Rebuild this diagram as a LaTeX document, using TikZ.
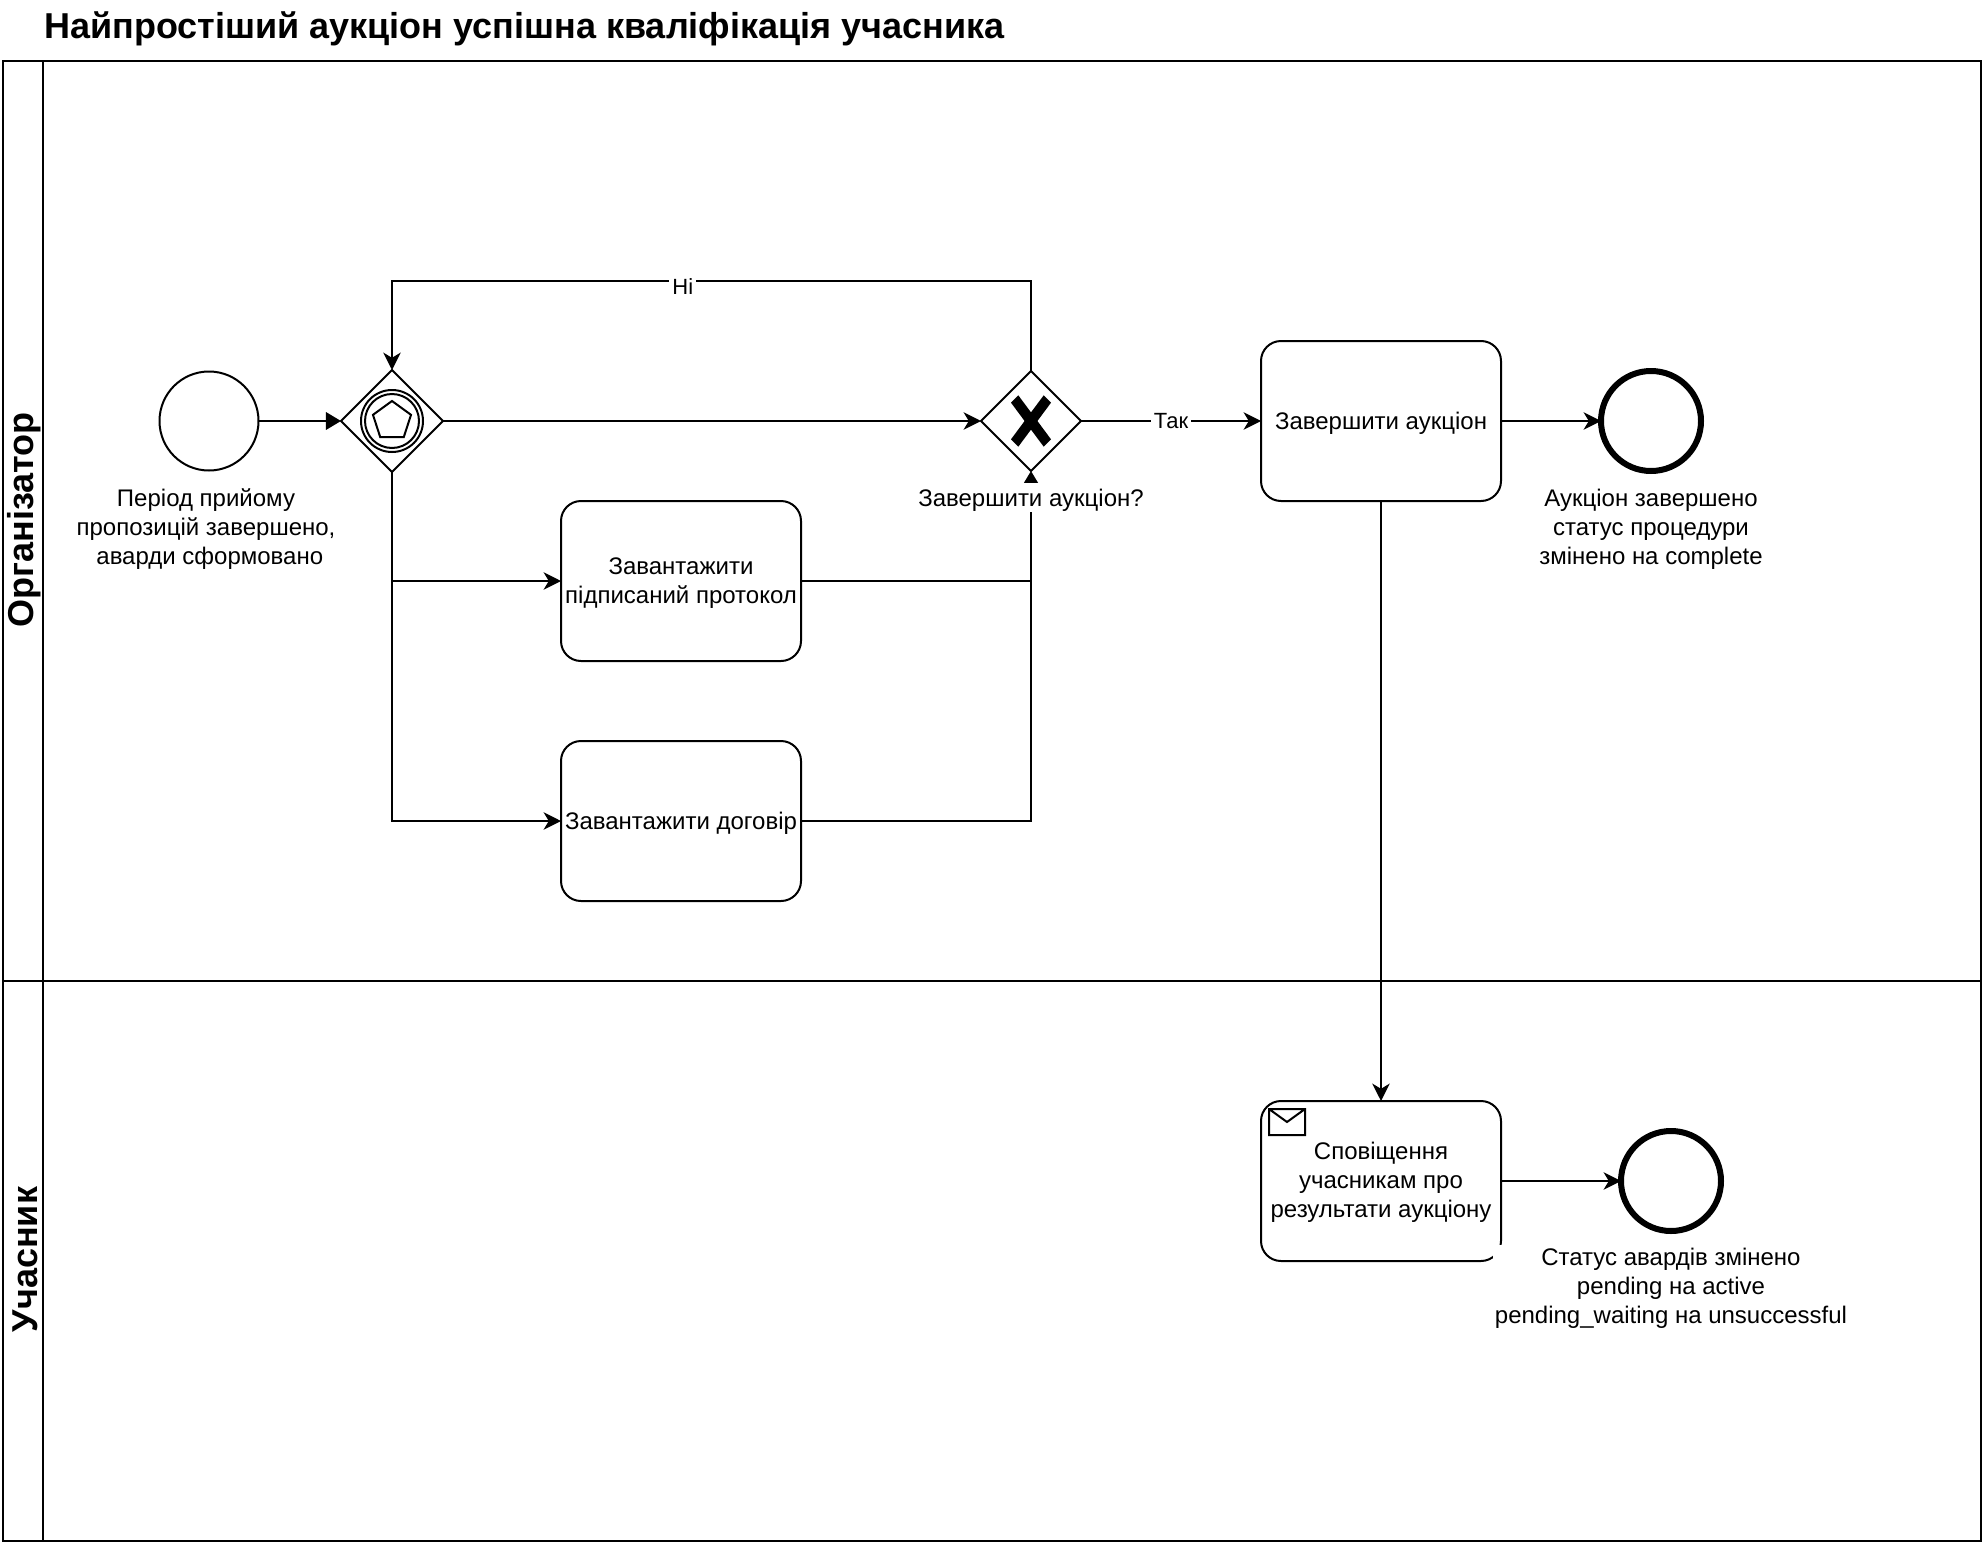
\documentclass[tikz,border=0pt]{standalone}
\usepackage{fontspec}
\setmainfont{Liberation Sans}
\usetikzlibrary{arrows.meta,shapes.geometric}
\tikzset{
 lane/.style={draw,line width=1pt,inner sep=0pt,outer sep=0pt},
 lanehead/.style={lane,rotate=90,font=\bfseries\fontsize{18}{22}\selectfont,execute at begin node={\rule{0pt}{14.5pt}}},
 task/.style={draw,line width=1pt,rounded corners=10pt,minimum width=120pt,minimum height=80pt,inner sep=0pt,outer sep=0pt,align=center,font=\fontsize{12}{14.5}\selectfont,execute at begin node={\rule{0pt}{11pt}}},
 gate/.style={draw,line width=1pt,diamond,aspect=1,minimum width=51pt,minimum height=51pt,inner sep=0pt,outer sep=0pt},
 startevent/.style={draw,line width=1pt,circle,minimum size=50pt,inner sep=0pt,outer sep=0pt},
 endevent/.style={draw,line width=3pt,circle,minimum size=50pt,inner sep=0pt,outer sep=0pt},
 caption/.style={fill=white,inner ysep=0pt,inner xsep=1pt,align=center,font=\fontsize{12}{14.5}\selectfont},
 edgetext/.style={fill=white,inner ysep=0pt,inner xsep=1.5pt,font=\fontsize{11}{13}\selectfont},
 flow/.style={line width=1pt,-{Stealth[length=8.7pt,width=8.7pt,inset=2.6pt]}},
 blockflow/.style={line width=1pt,-{Triangle[length=7.5pt,width=8.7pt]}},
 plainflow/.style={line width=1pt}
}
\begin{document}
\begin{tikzpicture}[x=0.5pt,y=-0.5pt]
 \useasboundingbox (0,0) rectangle (1982,1542);
 \node[anchor=west,inner sep=0pt,font=\bfseries\fontsize{18}{22}\selectfont] (title) at (44,29) {Найпростіший аукціон успішна кваліфікація учасника};
 \node[lane,minimum width=989pt,minimum height=460pt] (orglane) at (992,521) {};
 \node[lane,minimum width=989pt,minimum height=280pt] (userlane) at (992,1261) {};
 \node[lanehead,minimum width=460pt,minimum height=20pt] (orghead) at (23,521) {\hspace*{1pt}Організатор};
 \node[lanehead,minimum width=280pt,minimum height=20pt] (userhead) at (23,1261) {\hspace*{1.5pt}Учасник};

 \node[startevent,minimum size=49.5pt] (start) at (209,421) {};
 \node[gate] (mergegate) at (392,421) {};
 \node[draw,line width=1pt,circle,minimum size=31pt,inner sep=0pt] (ringouter) at (mergegate) {};
 \node[draw,line width=1pt,circle,minimum size=27pt,inner sep=0pt] (ringinner) at (mergegate) {};
 \node[draw,line width=1pt,regular polygon,regular polygon sides=5,minimum size=20pt,inner sep=0pt] (penta) at (mergegate) {};
 \node[gate,minimum width=50pt,minimum height=50pt] (closegate) at (1031,421) {};
 \fill[shift={(closegate)}] (-12.7,-25.7) -- (20,18.3) -- (12.7,25.7) -- (-20,-18.3) -- cycle;
 \fill[shift={(closegate)}] (12.7,-25.7) -- (20,-18.3) -- (-12.7,25.7) -- (-20,18.3) -- cycle;
 \node[task] (finish) at (1381,421) {Завершити аукціон};
 \node[endevent] (finishend) at (1651,421) {};
 \node[task] (protocol) at (681,581) {\rule{0pt}{10.8pt}Завантажити\\підписаний протокол};
 \node[task] (contract) at (681,821) {Завантажити договір};
 \node[task] (notify) at (1381,1181) {\rule{0pt}{10.1pt}Сповіщення\\учасникам про\\результати аукціону};
 \node[endevent] (notifyend) at (1671,1181) {};
 \draw[line width=1pt] (1269,1109) rectangle (1305,1135) (1269,1109) -- (1287,1122) -- (1305,1109);

 \coordinate (backright) at (1031,281);
 \coordinate (backleft) at (392,281);
 \coordinate (protocolturn) at (392,581);
 \coordinate (contractturn) at (392,821);
 \coordinate (protocoljoin) at (1031,581);
 \coordinate (contractjoin) at (1031,821);

 \draw[blockflow] (start) -- (mergegate);
 \draw[flow] (mergegate) -- (closegate);
 \draw[flow] (closegate.north) -- (backright) -- node[pos=0.545,edgetext,yshift=-3pt] (nolabel) {Ні} (backleft) -- (mergegate.north);
 \draw[flow] (closegate) -- node[edgetext] (yeslabel) {Так} (finish);
 \draw[flow] (mergegate.south) -- (contractturn) -- (contract);
 \draw[flow] (protocolturn) -- (protocol);
 \draw[plainflow] (protocol) -- (protocoljoin);
 \draw[blockflow] (contract) -- (contractjoin) -- (closegate.south);
 \draw[flow] (finish) -- (finishend);
 \draw[flow] (finish) -- (notify);
 \draw[flow] (notify) -- (notifyend);

 \node[caption,minimum height=43.5pt] (startcap) at (206,529) {Період прийому\\пропозицій завершено,\\\hspace*{3.8pt}аварди сформовано};
 \node[caption] (closecap) at (1031,497.5) {\rule[-3pt]{0pt}{14.5pt}Завершити аукціон?};
 \node[caption,minimum height=43.5pt] (finishcap) at (1651,529) {Аукціон завершено\\статус процедури\\змінено на complete};
 \node[caption,minimum height=43.5pt] (notifycap) at (1671,1288) {Статус авардів змінено\\pending на active\\pending\_waiting на unsuccessful};
\end{tikzpicture}
\end{document}
